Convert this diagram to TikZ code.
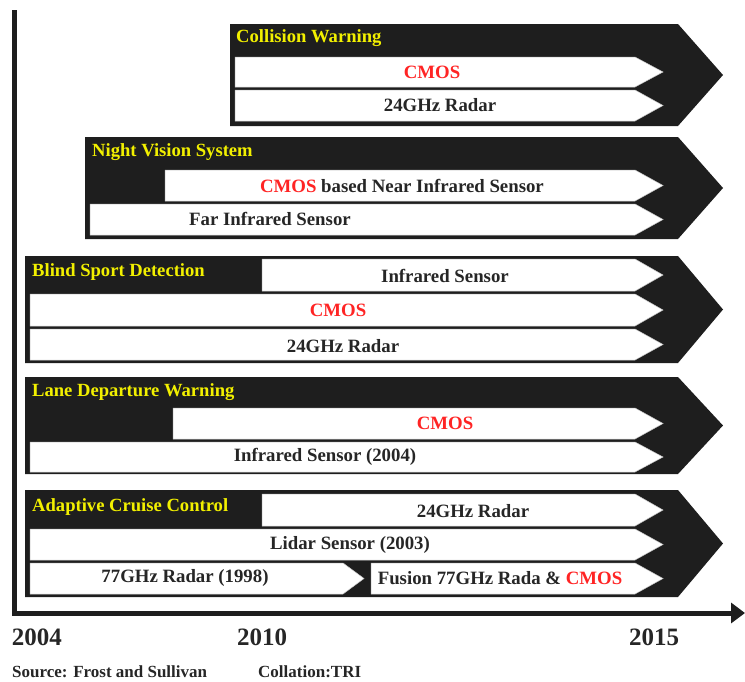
\documentclass[tikz,border=0pt]{standalone}
\usepackage{fontspec}
\setmainfont{Liberation Serif}
\usetikzlibrary{arrows.meta}
\definecolor{ink}{HTML}{1E1E1E}
\definecolor{textgray}{HTML}{262626}
\definecolor{titleyellow}{HTML}{F2F000}
\definecolor{cmosred}{HTML}{FF2424}
% pentagon band: style, left, top, bottom, shoulder x, tip x
\newcommand{\chevron}[6]{\path[#1] (#2,#3) -- (#5,#3) -- (#6,{(#3+#4)/2}) -- (#5,#4) -- (#2,#4) -- cycle;}
\newcommand{\cm}{\textcolor{cmosred}{CMOS}}
\begin{document}
\begin{tikzpicture}[x=1pt,y=-1pt,
  band/.style={fill=ink},
  lane/.style={fill=white, draw=gray!45, line width=0.5pt},
  title/.style={anchor=west, text=titleyellow, inner sep=0pt, font=\fontsize{18.6}{20}\selectfont\bfseries},
  lbl/.style={text=textgray, inner sep=0pt, font=\fontsize{18.8}{20}\selectfont\bfseries},
  year/.style={text=textgray, inner sep=0pt, font=\fontsize{25}{27}\selectfont\bfseries},
  note/.style={anchor=west, text=textgray, inner sep=0pt, font=\fontsize{17}{19}\selectfont\bfseries},
  axis/.style={draw=ink, line width=5pt}]
\useasboundingbox (0,0) rectangle (745,681);

% Collision Warning
\chevron{band}{230}{24}{126}{678}{723}
\chevron{lane}{235}{57}{87}{635}{663}
\chevron{lane}{235}{90}{121}{635}{663}
\node[title] (cw) at (236,38) {Collision Warning};
\node[lbl] (cw1) at (432,72) {\cm};
\node[lbl] (cw2) at (440,105) {24GHz Radar};

% Night Vision System
\chevron{band}{85}{137}{239}{678}{723}
\chevron{lane}{165}{170}{201}{635}{663}
\chevron{lane}{90}{204}{235}{635}{663}
\node[title] (nv) at (92,152) {Night Vision System};
\node[lbl] (nv1) at (402,186) {\cm{} based Near Infrared Sensor};
\node[lbl] (nv2) at (270,219) {Far Infrared Sensor};

% Blind Sport Detection
\chevron{band}{25}{256}{363}{678}{723}
\chevron{lane}{262}{259}{291}{635}{663}
\chevron{lane}{30}{294}{326}{635}{663}
\chevron{lane}{30}{329}{360}{635}{663}
\node[title] (bs) at (32,272) {Blind Sport Detection};
\node[lbl] (bs1) at (445,276) {Infrared Sensor};
\node[lbl] (bs2) at (338,310) {\cm};
\node[lbl] (bs3) at (343,346) {24GHz Radar};

% Lane Departure Warning
\chevron{band}{25}{377}{474}{678}{723}
\chevron{lane}{173}{408}{439}{635}{663}
\chevron{lane}{30}{442}{472}{635}{663}
\node[title] (ld) at (32,392) {Lane Departure Warning};
\node[lbl] (ld1) at (445,423) {\cm};
\node[lbl] (ld2) at (325,457) {Infrared Sensor (2004)};

% Adaptive Cruise Control
\chevron{band}{25}{490}{597}{678}{723}
\chevron{lane}{262}{494}{526}{635}{663}
\chevron{lane}{30}{529}{560}{635}{663}
\chevron{lane}{30}{563}{594}{343}{364}
\chevron{lane}{371}{563}{594}{635}{663}
\node[title] (ac) at (32,507) {Adaptive Cruise Control};
\node[lbl] (ac1) at (473,511) {24GHz Radar};
\node[lbl] (ac2) at (350,545) {Lidar Sensor (2003)};
\node[lbl] (ac3) at (185,578) {77GHz Radar (1998)};
\node[lbl] (ac4) at (500,578) {Fusion 77GHz Rada \& \cm};

% time axes
\coordinate (ytop) at (14,10);
\coordinate (xend) at (745,613);
\draw[axis, -{Triangle[length=14pt,width=20pt]}] (ytop) |- (xend);

\node[year] (y04) at (37,637) {2004};
\node[year] (y10) at (262,637) {2010};
\node[year] (y15) at (654,637) {2015};

\node[note] (src) at (12,672) {Source: Frost and Sullivan};
\node[note] (col) at (258,672) {Collation:TRI};
\end{tikzpicture}
\end{document}
